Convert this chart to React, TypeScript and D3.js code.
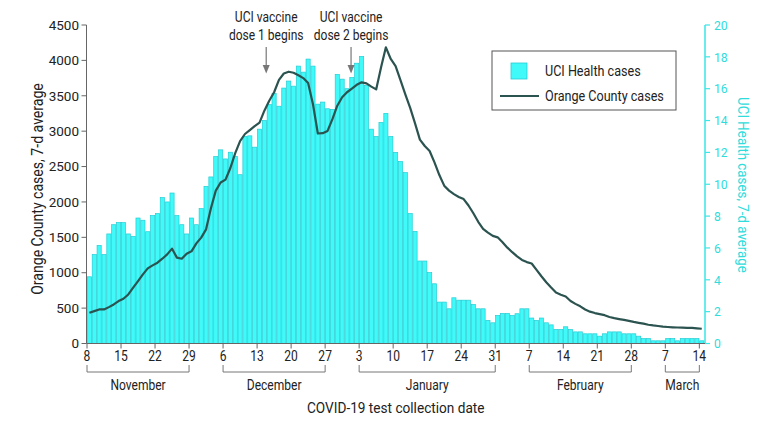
import React from "react";
import * as d3 from "d3";

// ---- data (daily, Nov 8 2020 – Mar 14 2021) ----
const startDay = Date.UTC(2020, 10, 8);
const endDay = Date.UTC(2021, 2, 15);

const uciCases: number[] = [
  // Nov 8–30
  4.19, 5.58, 6.16, 5.58, 6.88, 7.46, 7.59, 7.59, 6.88, 6.73, 7.88, 7.74, 7.02, 8.03, 8.16, 9.16, 8.89, 9.45, 8.03, 7.46, 6.88, 7.88, 7.46,
  // Dec 1–31
  8.47, 9.87, 10.46, 11.74, 12.16, 11.59, 12.01, 11.74, 10.6, 13.0, 13.04, 12.33, 13.46, 14.0, 15.0, 15.7, 14.9, 16.04, 16.48, 16.16, 17.42, 17.04, 17.86, 17.42, 15.03, 15.16, 14.74, 14.7, 16.9, 16.6, 16.0,
  // Jan 1–31
  16.7, 17.6, 18.03, 16.2, 13.46, 13.0, 13.88, 14.45, 13.0, 12.0, 11.43, 10.73, 8.16, 7.04, 5.18, 5.18, 4.45, 3.75, 2.6, 2.6, 2.18, 2.87, 2.72, 2.72, 2.72, 2.45, 2.18, 2.18, 1.45, 1.3, 1.76,
  // Feb 1–28
  1.89, 1.89, 1.76, 1.87, 2.18, 2.18, 1.6, 1.45, 1.6, 1.3, 1.17, 0.88, 0.88, 1.05, 0.88, 0.73, 0.73, 0.61, 0.61, 0.61, 0.46, 0.61, 0.73, 0.73, 0.73, 0.61, 0.61, 0.61,
  // Mar 1–14
  0.46, 0.31, 0.31, 0.17, 0.17, 0.17, 0.31, 0.31, 0.17, 0.31, 0.31, 0.31, 0.31, 0.17,
];

const ocCases: number[] = [
  434, 457, 481, 481, 514, 552, 599, 632, 693, 788,
  882, 976, 1061, 1104, 1142, 1198, 1259, 1340, 1213, 1198,
  1269, 1302, 1415, 1496, 1613, 1910, 2160, 2274, 2315, 2480,
  2690, 2860, 2960, 3015, 3070, 3120, 3290, 3430, 3550, 3725,
  3815, 3840, 3825, 3790, 3750, 3680, 3380, 2967, 2972, 3004,
  3170, 3360, 3480, 3550, 3600, 3655, 3690, 3675, 3630, 3590,
  3900, 4184, 4020, 3920, 3720, 3520, 3330, 3110, 2880, 2790,
  2720, 2560, 2380, 2230, 2160, 2110, 2070, 2040, 1950, 1840,
  1720, 1620, 1566, 1520, 1500, 1430, 1354, 1290, 1230, 1180,
  1150, 1130, 1040, 950, 865, 790, 720, 690, 665, 600,
  560, 525, 480, 450, 430, 415, 400, 375, 358, 345,
  333, 320, 305, 292, 280, 265, 255, 247, 238, 233,
  229, 226, 224, 222, 221, 215, 208,
];

const leftTicks = [0, 500, 1000, 1500, 2000, 2500, 3000, 3500, 4000, 4500];
const rightTicks = [0, 2, 4, 6, 8, 10, 12, 14, 16, 18, 20];
const xTickDates = [
  [2020, 10, 8], [2020, 10, 15], [2020, 10, 22], [2020, 10, 29],
  [2020, 11, 6], [2020, 11, 13], [2020, 11, 20], [2020, 11, 27],
  [2021, 0, 3], [2021, 0, 10], [2021, 0, 17], [2021, 0, 24], [2021, 0, 31],
  [2021, 1, 7], [2021, 1, 14], [2021, 1, 21], [2021, 1, 28],
  [2021, 2, 7], [2021, 2, 14],
];
const months = [
  { name: "November", from: [2020, 10, 8], to: [2020, 10, 29] },
  { name: "December", from: [2020, 11, 6], to: [2020, 11, 27] },
  { name: "January", from: [2021, 0, 3], to: [2021, 0, 31] },
  { name: "February", from: [2021, 1, 7], to: [2021, 1, 28] },
  { name: "March", from: [2021, 2, 7], to: [2021, 2, 14] },
];
const annotations = [
  { lines: ["UCI vaccine", "dose 1 begins"], date: Date.UTC(2020, 11, 14, 21) },
  { lines: ["UCI vaccine", "dose 2 begins"], date: Date.UTC(2021, 0, 1, 8) },
];

const FONT = "Roboto, 'Open Sans', sans-serif";
const TEXT = "#222";
const BAR_FILL = "#40f9f9";
const BAR_STROKE = "#26cdd4";
const LINE = "#2b5350";
const CYAN_AXIS = "#3ae6e6";
const CYAN_TEXT = "#2fdcdc";

// text squeezed horizontally to mimic the condensed face of the original
function T(props: { x: number; y: number; size: number; anchor?: string; fill?: string; sx?: number; rotate?: number; children: React.ReactNode; dy?: string }) {
  const { x, y, size, anchor = "middle", fill = TEXT, sx = 1, rotate = 0, children, dy } = props;
  return (
    <text transform={`translate(${x},${y}) rotate(${rotate}) scale(${sx},1)`} textAnchor={anchor} fontSize={size} fill={fill} dy={dy}>
      {children}
    </text>
  );
}

export default function App() {
  const W = 780, H = 425;
  const left = 86.5, right = 705, top = 25, bottom = 343.5;
  const DAY = 86400000;

  const x = d3.scaleUtc().domain([new Date(startDay), new Date(endDay)]).range([87, 704.2]);
  const yL = d3.scaleLinear().domain([0, 4500]).range([bottom, top]);
  const yR = d3.scaleLinear().domain([0, 20]).range([bottom, top]);

  const dayDate = (i: number) => new Date(startDay + i * DAY);
  const ut = (a: number[]) => new Date(Date.UTC(a[0], a[1], a[2]));

  const line = d3
    .line<number>()
    .x((_, i) => x(new Date(startDay + i * DAY + DAY / 2)))
    .y((d) => yL(d));

  return (
    <svg width={W} height={H} style={{ position: "absolute", left: 0, top: 0, background: "#fff" }} fontFamily={FONT}>
      {/* bars */}
      <g>
        {uciCases.map((v, i) => {
          const x0 = x(dayDate(i));
          const x1 = x(dayDate(i + 1));
          return (
            <rect key={i} x={x0 + 0.35} y={yR(v)} width={x1 - x0 - 0.7} height={bottom - yR(v)}
              fill={BAR_FILL} stroke={BAR_STROKE} strokeWidth={0.7} />
          );
        })}
      </g>
      {/* line */}
      <path d={line(ocCases) || ""} fill="none" stroke={LINE} strokeWidth={2.2} strokeLinejoin="round" />

      {/* left axis */}
      <line x1={left} x2={left} y1={top} y2={bottom} stroke="#666" strokeWidth={1} />
      {leftTicks.map((t) => (
        <g key={t}>
          <line x1={left - 5} x2={left} y1={yL(t)} y2={yL(t)} stroke="#666" />
          <T x={79} y={yL(t)} dy="0.35em" anchor="end" size={13.5}>{t}</T>
        </g>
      ))}
      <T x={37} y={189} rotate={-90} dy="0.35em" size={16} sx={0.88}>Orange County cases, 7-d average</T>

      {/* right axis */}
      <line x1={right} x2={right} y1={top} y2={bottom} stroke={CYAN_AXIS} strokeWidth={1.5} />
      {rightTicks.map((t) => (
        <g key={t}>
          <line x1={right} x2={right + 5} y1={yR(t)} y2={yR(t)} stroke={CYAN_AXIS} strokeWidth={1.2} />
          <T x={714} y={yR(t)} dy="0.35em" anchor="start" size={13.5} sx={0.9} fill={CYAN_TEXT}>{t}</T>
        </g>
      ))}
      <T x={743} y={185} rotate={90} dy="0.35em" size={15.5} sx={0.86} fill={CYAN_TEXT}>UCI Health cases, 7-d average</T>

      {/* bottom axis */}
      <line x1={left} x2={right} y1={bottom} y2={bottom} stroke="#666" strokeWidth={1} />
      {xTickDates.map((a, i) => {
        const xx = x(ut(a));
        return (
          <g key={i}>
            <line x1={xx} x2={xx} y1={bottom} y2={bottom + 5} stroke="#666" />
            <T x={xx} y={361} size={14} sx={0.86}>{a[2]}</T>
          </g>
        );
      })}
      {months.map((m) => {
        const x0 = x(ut(m.from));
        const x1 = x(ut(m.to));
        return (
          <g key={m.name}>
            <path d={`M${x0},365V372H${x1}V365`} fill="none" stroke="#777" strokeWidth={1} />
            <T x={(x0 + x1) / 2} y={389.5} size={14} sx={0.86}>{m.name}</T>
          </g>
        );
      })}
      <T x={(left + right) / 2} y={412.5} size={15.5} sx={0.88}>COVID-19 test collection date</T>

      {/* annotations */}
      {annotations.map((a, i) => {
        const xx = x(new Date(a.date));
        return (
          <g key={i}>
            <T x={xx} y={21.5} size={14} sx={0.86}>{a.lines[0]}</T>
            <T x={xx} y={39.5} size={14} sx={0.86}>{a.lines[1]}</T>
            <line x1={xx} x2={xx} y1={47} y2={67} stroke="#777" strokeWidth={1.2} />
            <path d={`M${xx - 3.5},65L${xx + 3.5},65L${xx},73.5Z`} fill="#777" />
          </g>
        );
      })}

      {/* legend */}
      <rect x={492} y={51} width={184} height={59} fill="#fff" stroke="#555" strokeWidth={1} />
      <rect x={511} y={63} width={16} height={16} fill={BAR_FILL} stroke={BAR_STROKE} strokeWidth={0.8} />
      <T x={545} y={71} dy="0.35em" anchor="start" size={14} sx={0.9}>UCI Health cases</T>
      <line x1={500} x2={539} y1={96} y2={96} stroke={LINE} strokeWidth={2.2} />
      <T x={545} y={96} dy="0.35em" anchor="start" size={14} sx={0.9}>Orange County cases</T>
    </svg>
  );
}
